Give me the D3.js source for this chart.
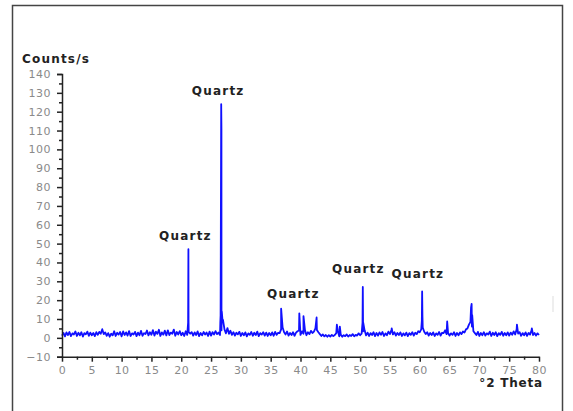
<!DOCTYPE html>
<html>
<head>
    <meta charset="utf-8">
    <title>XRD pattern</title>
    <script src="https://cdn.jsdelivr.net/npm/d3@7"></script>
    <style>
        body { margin: 0; background: white; }
        svg { display: block; }
        .tick text { font-family: "DejaVu Sans", sans-serif; font-size: 11px; fill: #8a8a8a; letter-spacing: 0.5px; }
        .tick line, .domain { stroke: #222; stroke-width: 1.5; }
        .lbl { font-family: "DejaVu Sans", sans-serif; font-weight: bold; font-size: 12px; fill: #222; }
    </style>
</head>
<body>
<svg id="chart"></svg>
<script>
    const width = 573, height = 411;

    // background counts, 0 to 80 °2θ in 0.25 steps
    const background = [
        1.2,2.6,0.8,2.9,1.5,3.1,0.9,2.4,1.8,3.4,1.0,2.7,1.3,3.0,0.7,2.5,1.9,3.3,1.1,2.8,
        1.4,2.6,0.9,3.0,1.6,3.2,2.2,4.6,2.0,2.9,1.1,2.5,0.6,2.2,1.3,3.5,1.0,2.7,1.7,3.1,
        0.8,3.4,1.5,2.9,1.2,3.6,1.0,2.4,1.8,3.2,0.9,2.8,1.4,3.7,1.1,2.5,2.0,3.9,1.3,3.0,
        1.6,4.1,1.2,3.3,2.1,4.3,1.0,2.9,1.7,3.8,1.3,4.0,1.5,2.8,2.2,4.4,1.1,3.1,1.8,3.6,
        1.4,2.7,1.0,3.5,1.6,3.0,2.2,3.0,1.2,2.9,1.5,3.4,0.9,2.6,1.3,3.1,1.8,2.8,1.0,3.3,
        1.2,3.0,1.8,3.6,2.0,2.8,1.5,4.0,9.5,4.5,2.4,5.2,2.1,3.8,1.6,3.0,1.2,2.7,1.9,3.2,
        1.0,2.6,1.4,2.9,0.8,2.4,1.6,3.1,1.1,2.7,1.5,3.3,0.9,2.5,1.7,3.0,1.2,2.8,1.0,2.6,
        1.3,2.9,1.1,3.2,1.6,2.7,2.5,4.5,5.5,3.0,1.8,3.4,1.2,2.6,1.5,3.0,1.1,2.8,3.5,3.9,
        1.6,3.4,2.2,4.1,1.4,3.0,2.0,3.7,2.6,3.3,5.0,4.2,3.0,2.0,1.0,1.8,0.8,1.5,0.6,1.4,
        0.7,1.6,0.9,1.5,2.5,3.8,0.8,1.7,0.6,1.4,0.9,1.8,0.7,1.5,1.0,2.0,0.8,1.6,1.2,2.4,
        1.4,2.2,3.5,4.0,1.3,2.8,1.0,2.5,1.5,3.0,0.9,2.6,1.2,2.9,1.6,3.1,1.0,2.4,1.4,3.3,
        2.0,4.2,1.8,3.0,1.2,2.6,1.5,2.9,1.0,2.4,1.3,2.8,0.9,2.5,1.6,3.0,1.2,2.7,2.0,3.5,
        3.0,4.5,5.5,3.2,2.0,3.0,1.2,2.6,1.5,2.9,1.0,2.4,1.6,3.1,1.2,2.7,2.5,4.0,2.0,2.6,
        1.2,2.4,1.6,3.0,1.0,2.6,1.4,2.9,2.0,3.4,2.8,4.5,5.0,7.0,8.5,6.0,3.5,2.5,1.5,3.2,
        1.0,2.6,1.4,3.0,1.2,2.4,1.8,3.3,1.0,2.7,1.5,3.0,0.9,2.5,1.6,3.2,1.1,2.6,1.4,2.9,
        1.2,2.8,1.6,3.4,1.8,4.5,2.2,3.0,1.1,2.5,1.4,2.9,1.0,2.6,1.7,4.0,1.5,2.6,1.2,2.4,
        1.5
    ];
    const bgStep = 0.25;

    // peak points [°2θ, counts/s]
    const peaks = [
        [21.15, 8], [21.2, 47], [21.22, 9.5],
        [26.55, 8], [26.6, 12], [26.7, 124], [26.74, 111], [26.8, 14], [26.9, 10],
        [36.75, 15.5], [39.8, 13], [40.5, 11.5], [42.7, 10.8],
        [46.1, 7], [46.6, 6],
        [50.4, 8], [50.45, 27], [50.52, 8],
        [55.3, 5],
        [60.35, 9], [60.4, 24.6], [60.45, 12],
        [64.6, 8.7],
        [68.6, 16], [68.7, 18], [68.8, 12],
        [76.3, 7], [78.8, 5]
    ];

    // peak labels [text, °2θ of label centre, counts/s of baseline]
    const labels = [
        ["Quartz", 20.7, 52],
        ["Quartz", 26.2, 129],
        ["Quartz", 38.8, 21],
        ["Quartz", 49.7, 34.5],
        ["Quartz", 59.7, 32]
    ];

    const yMajor = d3.range(-10, 141, 10);
    const yMinor = d3.range(-5, 140, 10);
    const xMajor = d3.range(0, 81, 5);
    const xMinor = d3.range(2.5, 80, 5);

    const svg = d3.select("#chart").attr("width", width).attr("height", height);

    // frame
    svg.append("rect")
        .attr("x", 12.5).attr("y", 5.5)
        .attr("width", 550).attr("height", 420)
        .attr("fill", "none").attr("stroke", "#444").attr("stroke-width", 1.5);

    svg.append("line")
        .attr("x1", 553).attr("x2", 553).attr("y1", 296).attr("y2", 312)
        .attr("stroke", "#ddd").attr("stroke-width", 1);

    const x = d3.scaleLinear().domain([0, 80]).range([62, 539]);
    const y = d3.scaleLinear().domain([-10, 140]).range([356.7, 74]);

    const points = background.map((v, i) => [i * bgStep, v])
        .concat(peaks)
        .sort((a, b) => a[0] - b[0]);

    const line = d3.line().x(d => x(d[0])).y(d => y(d[1]));

    svg.append("path")
        .datum(points)
        .attr("d", line)
        .attr("fill", "none")
        .attr("stroke", "#1010ff")
        .attr("stroke-width", 1.8)
        .attr("stroke-linejoin", "round");

    // y axis
    svg.append("g")
        .attr("transform", "translate(62,0)")
        .call(d3.axisLeft(y).tickValues(yMinor).tickSize(3).tickFormat(""))
        .call(g => g.select(".domain").remove());
    svg.append("g")
        .attr("transform", "translate(62,0)")
        .call(d3.axisLeft(y).tickValues(yMajor).tickSize(5).tickPadding(6));

    // x axis
    svg.append("g")
        .attr("transform", `translate(0,${y(-10)})`)
        .call(d3.axisBottom(x).tickValues(xMinor).tickSize(3).tickFormat(""))
        .call(g => g.select(".domain").remove());
    svg.append("g")
        .attr("transform", `translate(0,${y(-10)})`)
        .call(d3.axisBottom(x).tickValues(xMajor).tickSize(5).tickSizeOuter(0).tickPadding(5));

    svg.append("text").attr("class", "lbl")
        .attr("x", 22).attr("y", 63)
        .attr("letter-spacing", 1.2)
        .text("Counts/s");

    svg.append("text").attr("class", "lbl")
        .attr("x", 543).attr("y", 387)
        .attr("text-anchor", "end")
        .attr("letter-spacing", 0.8)
        .text("°2 Theta");

    svg.selectAll("text.peak")
        .data(labels)
        .enter().append("text")
        .attr("class", "lbl peak")
        .attr("x", d => x(d[1]))
        .attr("y", d => y(d[2]))
        .attr("text-anchor", "middle")
        .attr("letter-spacing", 1.2)
        .text(d => d[0]);
</script>
</body>
</html>
